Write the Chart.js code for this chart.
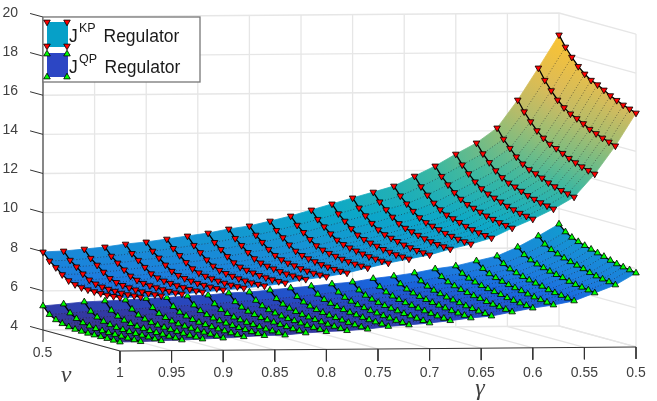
<!DOCTYPE html>
<html>
<head>
<meta charset="utf-8">
<title>J regulators</title>
<script src="https://cdn.jsdelivr.net/npm/chart.js@4"></script>
<style>
html,body{margin:0;padding:0;background:#fff;}
canvas{display:block;}
</style>
</head>
<body>
<canvas id="chart" width="657" height="401"></canvas>
<script>
// values, one row per gamma, one column per nu
var gammas=[1,0.98,0.96,0.94,0.92,0.9,0.88,0.86,0.84,0.82,0.8,0.78,0.76,0.74,0.72,0.7,0.68,0.66,0.64,0.62,0.6,0.58,0.56,0.54,0.52,0.5];
var nus=[0.5,0.5417,0.5833,0.625,0.6667,0.7083,0.75,0.7917,0.8333,0.875,0.9167,0.9583,1];
var jKP=[
[7.99,7.62,7.37,7.10,6.88,6.77,6.70,6.68,6.67,6.67,6.68,6.70,6.74],
[8.03,7.65,7.40,7.13,6.91,6.79,6.73,6.70,6.69,6.68,6.69,6.72,6.75],
[8.12,7.74,7.48,7.21,6.98,6.86,6.80,6.77,6.75,6.74,6.75,6.77,6.80],
[8.22,7.84,7.58,7.32,7.09,6.97,6.90,6.87,6.85,6.84,6.85,6.86,6.89],
[8.36,7.97,7.71,7.44,7.20,7.08,7.01,6.98,6.95,6.94,6.94,6.95,6.98],
[8.46,8.08,7.82,7.55,7.32,7.20,7.13,7.09,7.06,7.05,7.05,7.06,7.08],
[8.60,8.21,7.94,7.67,7.44,7.32,7.24,7.20,7.17,7.15,7.14,7.15,7.17],
[8.75,8.36,8.08,7.80,7.57,7.44,7.37,7.32,7.28,7.26,7.25,7.26,7.27],
[8.89,8.50,8.23,7.96,7.73,7.60,7.53,7.48,7.44,7.41,7.40,7.40,7.41],
[9.09,8.70,8.43,8.16,7.93,7.80,7.73,7.68,7.63,7.60,7.59,7.58,7.59],
[9.24,8.86,8.58,8.31,8.09,7.96,7.88,7.83,7.77,7.74,7.72,7.72,7.72],
[9.48,9.09,8.81,8.53,8.30,8.17,8.09,8.03,7.97,7.94,7.91,7.90,7.90],
[9.73,9.35,9.07,8.80,8.57,8.44,8.36,8.30,8.24,8.20,8.17,8.16,8.15],
[10.03,9.64,9.35,9.08,8.85,8.71,8.63,8.56,8.50,8.45,8.42,8.40,8.39],
[10.33,9.92,9.63,9.34,9.10,8.96,8.87,8.80,8.72,8.67,8.63,8.61,8.59],
[10.63,10.21,9.90,9.60,9.36,9.20,9.11,9.03,8.94,8.89,8.84,8.81,8.79],
[10.92,10.51,10.20,9.91,9.67,9.52,9.43,9.34,9.25,9.19,9.14,9.11,9.08],
[11.22,10.81,10.49,10.20,9.96,9.80,9.71,9.62,9.52,9.46,9.40,9.36,9.33],
[11.72,11.27,10.93,10.61,10.36,10.18,10.08,9.98,9.87,9.79,9.72,9.67,9.63],
[12.23,11.79,11.45,11.14,10.89,10.71,10.61,10.50,10.39,10.31,10.23,10.18,10.13],
[12.83,12.37,12.01,11.68,11.42,11.24,11.12,11.01,10.88,10.79,10.70,10.64,10.58],
[13.39,12.93,12.57,12.24,11.98,11.79,11.68,11.55,11.42,11.32,11.23,11.16,11.09],
[14.15,13.67,13.29,12.94,12.67,12.47,12.35,12.22,12.06,11.95,11.85,11.77,11.69],
[15.57,15.06,14.64,14.27,13.98,13.76,13.63,13.47,13.30,13.17,13.05,12.95,12.86],
[17.20,16.66,16.22,15.83,15.53,15.30,15.15,14.98,14.78,14.65,14.51,14.40,14.29],
[18.88,18.35,17.92,17.54,17.24,17.01,16.87,16.69,16.49,16.34,16.19,16.08,15.96]
];
var jQP=[
[5.23,4.88,4.70,4.59,4.52,4.48,4.47,4.46,4.46,4.46,4.46,4.46,4.46],
[5.32,4.95,4.75,4.63,4.55,4.51,4.49,4.48,4.48,4.48,4.47,4.47,4.47],
[5.42,5.03,4.82,4.69,4.61,4.56,4.54,4.53,4.52,4.52,4.52,4.51,4.51],
[5.46,5.07,4.86,4.74,4.66,4.61,4.59,4.57,4.56,4.56,4.55,4.55,4.54],
[5.50,5.12,4.91,4.79,4.71,4.66,4.64,4.62,4.61,4.60,4.59,4.59,4.58],
[5.57,5.19,4.98,4.86,4.77,4.72,4.69,4.67,4.66,4.65,4.64,4.63,4.62],
[5.61,5.24,5.04,4.93,4.84,4.79,4.76,4.74,4.72,4.71,4.70,4.69,4.68],
[5.68,5.31,5.11,4.99,4.91,4.86,4.83,4.80,4.78,4.77,4.75,4.74,4.73],
[5.72,5.36,5.16,5.04,4.95,4.90,4.86,4.84,4.81,4.79,4.78,4.77,4.75],
[5.82,5.46,5.27,5.15,5.07,5.01,4.98,4.95,4.92,4.90,4.88,4.87,4.85],
[5.86,5.52,5.33,5.22,5.14,5.08,5.04,5.02,4.99,4.96,4.94,4.93,4.91],
[5.95,5.60,5.41,5.29,5.21,5.15,5.11,5.07,5.04,5.01,4.99,4.97,4.95],
[6.05,5.70,5.51,5.39,5.30,5.24,5.19,5.16,5.12,5.09,5.06,5.04,5.02],
[6.14,5.81,5.63,5.52,5.44,5.38,5.33,5.29,5.25,5.22,5.20,5.18,5.15],
[6.24,5.91,5.73,5.62,5.53,5.47,5.42,5.38,5.33,5.30,5.27,5.25,5.22],
[6.33,6.01,5.83,5.72,5.64,5.57,5.52,5.48,5.43,5.40,5.37,5.34,5.31],
[6.50,6.17,5.99,5.87,5.78,5.71,5.66,5.61,5.56,5.52,5.48,5.45,5.42],
[6.62,6.31,6.13,6.02,5.93,5.86,5.80,5.75,5.70,5.65,5.62,5.59,5.55],
[6.77,6.45,6.27,6.15,6.06,5.98,5.92,5.87,5.80,5.75,5.71,5.68,5.64],
[6.97,6.66,6.48,6.37,6.27,6.20,6.13,6.08,6.01,5.96,5.92,5.88,5.84],
[7.11,6.82,6.66,6.55,6.46,6.39,6.33,6.27,6.20,6.15,6.11,6.07,6.03],
[7.36,7.06,6.88,6.77,6.67,6.59,6.52,6.46,6.38,6.32,6.27,6.23,6.18],
[7.60,7.30,7.12,7.01,6.91,6.82,6.75,6.68,6.59,6.53,6.48,6.43,6.38],
[8.05,7.75,7.57,7.45,7.35,7.26,7.18,7.11,7.01,6.94,6.89,6.84,6.78],
[8.61,8.28,8.09,7.96,7.84,7.74,7.65,7.56,7.45,7.37,7.30,7.25,7.18],
[9.21,8.90,8.71,8.58,8.47,8.37,8.27,8.18,8.07,7.98,7.91,7.85,7.78]
];
var zTicks=[4,6,8,10,12,14,16,18,20];
var gammaTicks=[1,0.95,0.9,0.85,0.8,0.75,0.7,0.65,0.6,0.55,0.5];

// colour of the surface against J
var colorZ=[4.4,5,5.6,6.4,7,8.5,10,12,14,16,19];
var colorRGB=[[58,52,140],[50,58,165],[38,74,195],[24,104,222],[28,124,222],[22,146,212],[10,168,200],[60,184,160],[146,190,118],[214,186,94],[254,196,46]];

var ink="#404040";
var font='"Liberation Sans", Arial, sans-serif';

function zColor(z){
    var k=0;
    while(k<colorZ.length-2 && z>colorZ[k+1]) k++;
    var f=(z-colorZ[k])/(colorZ[k+1]-colorZ[k]);
    f=Math.max(0,Math.min(1,f));
    var a=colorRGB[k],b=colorRGB[k+1];
    return "rgb("+Math.round(a[0]+(b[0]-a[0])*f)+","+Math.round(a[1]+(b[1]-a[1])*f)+","+Math.round(a[2]+(b[2]-a[2])*f)+")";
}

// orthographic view of the 3d box onto the two flat chart scales
function pt(g,nu,z){
    return {x:g+(1-nu)*0.1492, y:z+(1-g)*0.409-(nu-0.5)*2.147};
}

var layers=[];

function addLine(points,color,width,dash){
    layers.push({data:points,showLine:true,borderColor:color,borderWidth:width,borderDash:dash||[],
        pointRadius:0,fill:false,clip:false,tension:0});
}

function addCell(table,i,j){
    var a=table[i],b=table[i+1];
    var za=(a[j]+a[j+1])/2,zb=(b[j]+b[j+1])/2;
    var pa=pt(gammas[i],(nus[j]+nus[j+1])/2,za),pb=pt(gammas[i+1],(nus[j]+nus[j+1])/2,zb);
    // gradient along gamma, the cells are wide on the steep part
    var paint=function(ctx){
        var s=ctx.chart.scales;
        if(!s||!s.x||!s.y) return zColor((za+zb)/2);
        var x0=s.x.getPixelForValue(pa.x),y0=s.y.getPixelForValue(pa.y);
        var x1=s.x.getPixelForValue(pb.x),y1=s.y.getPixelForValue(pb.y);
        if(!isFinite(x0)||!isFinite(y0)||!isFinite(x1)||!isFinite(y1)) return zColor((za+zb)/2);
        var gr=ctx.chart.ctx.createLinearGradient(x0,y0,x1,y1);
        gr.addColorStop(0,zColor(za));
        gr.addColorStop(1,zColor(zb));
        return gr;
    };
    layers.push({
        data:[pt(gammas[i],nus[j],a[j]),pt(gammas[i+1],nus[j],b[j]),pt(gammas[i+1],nus[j+1],b[j+1]),pt(gammas[i],nus[j+1],a[j+1])],
        showLine:true,fill:"shape",backgroundColor:paint,borderColor:paint,borderWidth:0.8,
        pointRadius:0,clip:false,tension:0
    });
}

function addSurface(table,markColor,rotation){
    var i,j;
    for(j=0;j<nus.length-1;j++){
        for(i=0;i<gammas.length-1;i++) addCell(table,i,j);
    }
    for(j=1;j<nus.length-1;j++){
        addLine(gammas.map(function(g,k){return pt(g,nus[j],table[k][j]);}),"rgba(15,15,15,0.55)",0.9,[1,2]);
    }
    for(i=0;i<gammas.length;i++){
        layers.push({
            data:nus.map(function(nu,k){return pt(gammas[i],nu,table[i][k]);}),
            showLine:true,borderColor:"#000",borderWidth:1.3,fill:false,clip:false,tension:0,
            pointStyle:"triangle",pointRotation:rotation,pointRadius:3.8,
            pointBackgroundColor:markColor,pointBorderColor:"#000",pointBorderWidth:0.8
        });
    }
}

// walls and floor
zTicks.forEach(function(z){
    addLine([pt(1,0.5,z),pt(0.5,0.5,z),pt(0.5,1,z)],"#e6e6e6",1.3);
});
gammaTicks.forEach(function(g){
    addLine([pt(g,0.5,20),pt(g,0.5,4),pt(g,1,4)],"#e6e6e6",1.3);
});
addLine([pt(0.5,1,20),pt(0.5,1,4)],"#e6e6e6",1.3);

// axis lines and tick marks
addLine([pt(1,0.5,20),pt(1,0.5,3.39)],"#666",1.5);
addLine([pt(1,0.5,4),pt(1,1,4)],"#333",1);
addLine([pt(1,1,4),pt(0.5,1,4)],"#333",1.2);
zTicks.forEach(function(z){
    addLine([pt(1,0.416,z),pt(1,0.5,z)],"#333",1);
});
gammaTicks.forEach(function(g){
    addLine([pt(g,1,4),pt(g,1,3.39)],"#333",g==1?1.8:1);
});

addSurface(jQP,"#00ff00",0);
addSurface(jKP,"#ff0000",180);

// first in the list is painted first
layers.forEach(function(d,k){d.order=layers.length-k;});

var legendPlugin={
    id:"legendBox",
    afterDraw:function(chart){
        var ctx=chart.ctx;
        ctx.save();
        ctx.fillStyle="#fff";
        ctx.strokeStyle="#777";
        ctx.lineWidth=1.3;
        ctx.fillRect(43,17,157,65);
        ctx.strokeRect(43,17,157,65);
        ctx.fillStyle="#06a0c8";
        ctx.fillRect(47,22,21,25);
        ctx.fillStyle="#2c46c4";
        ctx.fillRect(47,53,21,24);
        var marks=[[47,22,"#ff0000",180],[67,22,"#ff0000",180],[47,46,"#ff0000",180],[67,46,"#ff0000",180],
            [47,54,"#00ff00",0],[67,54,"#00ff00",0],[47,77,"#00ff00",0],[67,77,"#00ff00",0]];
        marks.forEach(function(m){
            ctx.fillStyle=m[2];
            ctx.strokeStyle="#000";
            ctx.lineWidth=0.8;
            Chart.helpers.drawPoint(ctx,{pointStyle:"triangle",radius:3.8,rotation:m[3],borderWidth:0.8},m[0],m[1]);
        });
        ctx.fillStyle="#1a1a1a";
        ctx.textAlign="left";
        ctx.textBaseline="alphabetic";
        ctx.font="17.5px "+font;
        ctx.fillText("J",69,42);
        ctx.fillText("Regulator",103.5,42);
        ctx.fillText("J",69,73);
        ctx.fillText("Regulator",104.5,73);
        ctx.font="12.5px "+font;
        ctx.fillText("KP",79,32);
        ctx.fillText("QP",79,63);

        // the nu axis has no scale of its own
        ctx.fillStyle=ink;
        ctx.textAlign="center";
        ctx.textBaseline="middle";
        ctx.font="14px "+font;
        ctx.fillText("0.5",42.5,353);
        ctx.font='italic 24px "Liberation Serif", serif';
        ctx.fillText("\u03bd",66,376);
        ctx.fillText("\u03b3",480,389);
        ctx.restore();
    }
};

var chart=new Chart(document.getElementById("chart"),{
    type:"scatter",
    data:{datasets:layers},
    plugins:[legendPlugin],
    options:{
        responsive:false,
        animation:false,
        events:[],
        layout:{padding:{left:0,top:10,right:21,bottom:0}},
        plugins:{legend:{display:false},tooltip:{enabled:false}},
        scales:{
            x:{
                type:"linear",reverse:true,min:0.5,max:1.0746,
                grid:{display:false},border:{display:false},
                afterFit:function(axis){axis.height=50;axis.paddingLeft=0;axis.paddingRight=0;},
                afterBuildTicks:function(axis){axis.ticks=gammaTicks.map(function(v){return {value:v};});},
                ticks:{autoSkip:false,maxRotation:0,padding:6,color:ink,font:{family:font,size:14},
                    callback:function(v){return String(v);}}
            },
            y:{
                type:"linear",min:2.926,max:20.358,
                grid:{display:false},border:{display:false},
                afterFit:function(axis){axis.width=43;axis.paddingTop=0;axis.paddingBottom=0;},
                afterBuildTicks:function(axis){axis.ticks=zTicks.map(function(v){return {value:v};});},
                ticks:{autoSkip:false,padding:17,labelOffset:-4,color:ink,font:{family:font,size:14},
                    callback:function(v){return String(v);}}
            }
        }
    }
});
</script>
</body>
</html>
